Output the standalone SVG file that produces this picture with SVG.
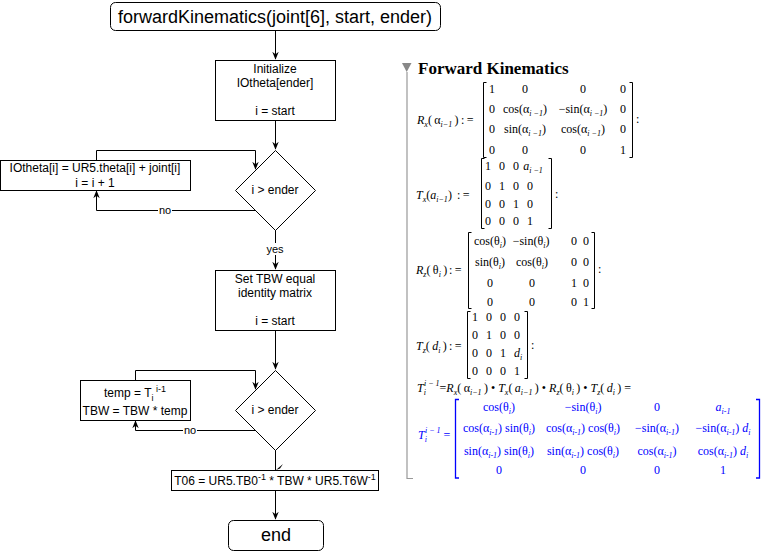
<svg xmlns="http://www.w3.org/2000/svg" width="763" height="551" viewBox="0 0 763 551">
<style>
.f{font-family:"Liberation Sans",Arial,sans-serif;font-size:12px;fill:#000;text-anchor:middle}
.big{font-size:18px}
.lbl{font-size:11px}
.box{fill:#fff;stroke:#000;stroke-width:1}
.edge{fill:none;stroke:#000;stroke-width:1}
.m{font-family:"Liberation Serif","Times New Roman",serif;font-size:12px;fill:#000}
.c{text-anchor:middle}
.bl{fill:#0000ff}
.i{font-style:italic}
.s{font-size:8px;font-style:italic}
.br{fill:none;stroke:#000;stroke-width:1}
.bb{fill:none;stroke:#0000ff;stroke-width:1.3}
.t{font-family:"Liberation Serif","Times New Roman",serif;font-weight:bold;font-size:17px;fill:#000}
</style>
<defs>
<marker id="a" viewBox="0 0 10 10" refX="9" refY="5" markerWidth="8" markerHeight="8" markerUnits="userSpaceOnUse" orient="auto"><path d="M0,1 L10,5 L0,9 L3,5 z" fill="#000"/></marker>
</defs>
<rect x="0" y="0" width="763" height="551" fill="#fff"/>

<g id="connectors">
<path class="edge" d="M275.5,30 V59" marker-end="url(#a)"/>
<path class="edge" d="M275.5,121 V149" marker-end="url(#a)"/>
<path class="edge" d="M96.5,160 V150.5 H255.5 V169" marker-end="url(#a)"/>
<path class="edge" d="M255,210.5 H96.5 V191" marker-end="url(#a)"/>
<path class="edge" d="M275.5,230 V269" marker-end="url(#a)"/>
<path class="edge" d="M275.5,331 V369" marker-end="url(#a)"/>
<path class="edge" d="M135.5,380 V370.5 H255.5 V389" marker-end="url(#a)"/>
<path class="edge" d="M255,430.5 H135.5 V421" marker-end="url(#a)"/>
<path class="edge" d="M275.5,450 V470"/>
<path d="M276,470 L283,464 L280,468.5 Z" fill="#000"/>
<path class="edge" d="M275.5,491 V519" marker-end="url(#a)"/>
<rect x="158" y="204" width="14" height="12" fill="#fff"/>
<text class="f lbl" x="165" y="214">no</text>
<rect x="265" y="243" width="20" height="12" fill="#fff"/>
<text class="f lbl" x="275" y="253">yes</text>
<rect x="183" y="424" width="14" height="12" fill="#fff"/>
<text class="f lbl" x="190" y="434">no</text>
</g>

<g id="start">
<rect class="box" x="110.5" y="2.5" width="330" height="28" rx="5"/>
<text class="f big" x="275" y="23">forwardKinematics(joint[6], start, ender)</text>
</g>
<g id="init">
<rect class="box" x="215.5" y="60.5" width="120" height="60"/>
<text class="f" x="275" y="73">Initialize</text>
<text class="f" x="275" y="87">IOtheta[ender]</text>
<text class="f" x="275" y="115">i = start</text>
</g>
<g id="cond1">
<polygon class="box" points="275.5,150.5 315.5,190.5 275.5,230.5 235.5,190.5"/>
<text class="f" x="275" y="194">i &gt; ender</text>
</g>
<g id="update1">
<rect class="box" x="0.5" y="160.5" width="190" height="30"/>
<text class="f" x="95" y="172">IOtheta[i] = UR5.theta[i] + joint[i]</text>
<text class="f" x="95" y="187">i = i + 1</text>
</g>
<g id="settbw">
<rect class="box" x="215.5" y="270.5" width="120" height="60"/>
<text class="f" x="275" y="283">Set TBW equal</text>
<text class="f" x="275" y="297">identity matrix</text>
<text class="f" x="275" y="325">i = start</text>
</g>
<g id="cond2">
<polygon class="box" points="275.5,370.5 315.5,410.5 275.5,450.5 235.5,410.5"/>
<text class="f" x="275" y="414">i &gt; ender</text>
</g>
<g id="update2">
<rect class="box" x="80.5" y="380.5" width="110" height="40"/>
<text class="f" x="135" y="397">temp = T<tspan font-size="9" dy="4">i</tspan><tspan font-size="9" dy="-9"> i-1</tspan></text>
<text class="f" x="135" y="415">TBW = TBW * temp</text>
</g>
<g id="t06">
<rect class="box" x="171.5" y="470.5" width="207" height="20"/>
<text class="f" x="275" y="485">T06 = UR5.TB0<tspan font-size="9" dy="-5">-1</tspan><tspan dy="5"> * TBW * UR5.T6W</tspan><tspan font-size="9" dy="-5">-1</tspan></text>
</g>
<g id="end">
<rect class="box" x="228.5" y="520.5" width="95" height="30" rx="5"/>
<text class="f big" x="276" y="541">end</text>
</g>

<g id="maple">
<path d="M407,72 V478.5 H413" fill="none" stroke="#999" stroke-width="1.2"/>
<polygon points="402,63 411.5,63 406.7,72" fill="#888"/>
<text class="t" x="418" y="74">Forward Kinematics</text>

<!-- Rx -->
<text class="m" x="417" y="124"><tspan class="i">R</tspan><tspan class="s" dy="3">x</tspan><tspan dy="-3">(&#x2009;α</tspan><tspan class="s" dy="3">i−1</tspan><tspan dy="-3">&#x2009;)</tspan><tspan x="461">:&#x2009;=</tspan></text>
<path class="br" d="M486.5,82.5 H483.5 V157.5 H486.5 M629.5,82.5 H632.5 V157.5 H629.5"/>
<g class="m c">
<text x="492" y="93">1</text><text x="525" y="93">0</text><text x="583" y="93">0</text><text x="623" y="93">0</text>
<text x="492" y="113">0</text><text x="525" y="113">cos(α<tspan class="s" dy="3">i −1</tspan><tspan dy="-3">)</tspan></text><text x="583" y="113">−sin(α<tspan class="s" dy="3">i −1</tspan><tspan dy="-3">)</tspan></text><text x="623" y="113">0</text>
<text x="492" y="133">0</text><text x="525" y="133">sin(α<tspan class="s" dy="3">i −1</tspan><tspan dy="-3">)</tspan></text><text x="583" y="133">cos(α<tspan class="s" dy="3">i −1</tspan><tspan dy="-3">)</tspan></text><text x="623" y="133">0</text>
<text x="492" y="154">0</text><text x="525" y="154">0</text><text x="583" y="154">0</text><text x="623" y="154">1</text>
</g>
<text class="m" x="636" y="123">:</text>

<!-- Tx -->
<text class="m" x="416" y="199"><tspan class="i">T</tspan><tspan class="s" dy="3">x</tspan><tspan dy="-3">(</tspan><tspan class="i">a</tspan><tspan class="s" dy="3">i−1</tspan><tspan dy="-3">)</tspan><tspan x="457">:&#x2009;=</tspan></text>
<path class="br" d="M484.5,158.5 H481.5 V228.5 H484.5 M548.5,158.5 H551.5 V228.5 H548.5"/>
<g class="m c">
<text x="488" y="170">1</text><text x="502" y="170">0</text><text x="516" y="170">0</text><text x="533" y="170"><tspan class="i">a</tspan><tspan class="s" dy="3">i −1</tspan></text>
<text x="488" y="190">0</text><text x="502" y="190">1</text><text x="516" y="190">0</text><text x="530" y="190">0</text>
<text x="488" y="208">0</text><text x="502" y="208">0</text><text x="516" y="208">1</text><text x="530" y="208">0</text>
<text x="488" y="225">0</text><text x="502" y="225">0</text><text x="516" y="225">0</text><text x="530" y="225">1</text>
</g>
<text class="m" x="555" y="198">:</text>

<!-- Rz -->
<text class="m" x="416" y="274"><tspan class="i">R</tspan><tspan class="s" dy="3">z</tspan><tspan dy="-3">(&#x2009;θ</tspan><tspan class="s" dy="3">i</tspan><tspan dy="-3">&#x2009;)</tspan><tspan x="449">:&#x2009;=</tspan></text>
<path class="br" d="M471.5,232.5 H468.5 V308.5 H471.5 M591.5,232.5 H594.5 V308.5 H591.5"/>
<g class="m c">
<text x="490" y="245">cos(θ<tspan class="s" dy="3">i</tspan><tspan dy="-3">)</tspan></text><text x="531" y="245">−sin(θ<tspan class="s" dy="3">i</tspan><tspan dy="-3">)</tspan></text><text x="574" y="245">0</text><text x="586" y="245">0</text>
<text x="490" y="266">sin(θ<tspan class="s" dy="3">i</tspan><tspan dy="-3">)</tspan></text><text x="532" y="266">cos(θ<tspan class="s" dy="3">i</tspan><tspan dy="-3">)</tspan></text><text x="574" y="266">0</text><text x="586" y="266">0</text>
<text x="490" y="287">0</text><text x="532" y="287">0</text><text x="574" y="287">1</text><text x="586" y="287">0</text>
<text x="490" y="306">0</text><text x="532" y="306">0</text><text x="574" y="306">0</text><text x="586" y="306">1</text>
</g>
<text class="m" x="598" y="273">:</text>

<!-- Tz -->
<text class="m" x="416" y="350"><tspan class="i">T</tspan><tspan class="s" dy="3">z</tspan><tspan dy="-3">(&#x2009;</tspan><tspan class="i">d</tspan><tspan class="s" dy="3">i</tspan><tspan dy="-3">&#x2009;)</tspan><tspan x="449">:&#x2009;=</tspan></text>
<path class="br" d="M470.5,311.5 H467.5 V378.5 H470.5 M524.5,311.5 H527.5 V378.5 H524.5"/>
<g class="m c">
<text x="475" y="321">1</text><text x="489" y="321">0</text><text x="503" y="321">0</text><text x="517" y="321">0</text>
<text x="475" y="339">0</text><text x="489" y="339">1</text><text x="503" y="339">0</text><text x="517" y="339">0</text>
<text x="475" y="357">0</text><text x="489" y="357">0</text><text x="503" y="357">1</text><text x="518" y="357"><tspan class="i">d</tspan><tspan class="s" dy="3">i</tspan></text>
<text x="475" y="375">0</text><text x="489" y="375">0</text><text x="503" y="375">0</text><text x="517" y="375">1</text>
</g>
<text class="m" x="531" y="349">:</text>

<!-- product -->
<text class="m" x="417" y="392"><tspan class="i">T</tspan><tspan class="s" dy="3">i</tspan><tspan class="s" dx="-2" dy="-9">i − 1</tspan><tspan dy="6">=</tspan><tspan class="i">R</tspan><tspan class="s" dy="3">x</tspan><tspan dy="-3">(&#x2009;α</tspan><tspan class="s" dy="3">i−1</tspan><tspan dy="-3">&#x2009;) • </tspan><tspan class="i">T</tspan><tspan class="s" dy="3">x</tspan><tspan dy="-3">(&#x2009;</tspan><tspan class="i">a</tspan><tspan class="s" dy="3">i−1</tspan><tspan dy="-3">&#x2009;) • </tspan><tspan class="i">R</tspan><tspan class="s" dy="3">z</tspan><tspan dy="-3">(&#x2009;θ</tspan><tspan class="s" dy="3">i</tspan><tspan dy="-3">&#x2009;) • </tspan><tspan class="i">T</tspan><tspan class="s" dy="3">z</tspan><tspan dy="-3">(&#x2009;</tspan><tspan class="i">d</tspan><tspan class="s" dy="3">i</tspan><tspan dy="-3">&#x2009;) =</tspan></text>

<!-- result -->
<text class="m bl" x="418" y="439"><tspan class="i">T</tspan><tspan class="s" dy="3">i</tspan><tspan class="s" dx="-2" dy="-9">i − 1</tspan><tspan dy="6"> =</tspan></text>
<path class="bb" d="M459,399.5 H455.5 V478 H459 M756,399.5 H759.5 V478 H756"/>
<g class="m c bl">
<text x="499" y="411">cos(θ<tspan class="s" dy="3">i</tspan><tspan dy="-3">)</tspan></text>
<text x="583" y="411">−sin(θ<tspan class="s" dy="3">i</tspan><tspan dy="-3">)</tspan></text>
<text x="657" y="411">0</text>
<text x="723" y="411"><tspan class="i">a</tspan><tspan class="s" dy="3">i-1</tspan></text>
<text x="499" y="432">cos(α<tspan class="s" dy="3">i-1</tspan><tspan dy="-3">) sin(θ</tspan><tspan class="s" dy="3">i</tspan><tspan dy="-3">)</tspan></text>
<text x="583" y="432">cos(α<tspan class="s" dy="3">i-1</tspan><tspan dy="-3">) cos(θ</tspan><tspan class="s" dy="3">i</tspan><tspan dy="-3">)</tspan></text>
<text x="657" y="432">−sin(α<tspan class="s" dy="3">i-1</tspan><tspan dy="-3">)</tspan></text>
<text x="723" y="432">−sin(α<tspan class="s" dy="3">i-1</tspan><tspan dy="-3">) </tspan><tspan class="i">d</tspan><tspan class="s" dy="3">i</tspan></text>
<text x="499" y="455">sin(α<tspan class="s" dy="3">i-1</tspan><tspan dy="-3">) sin(θ</tspan><tspan class="s" dy="3">i</tspan><tspan dy="-3">)</tspan></text>
<text x="583" y="455">sin(α<tspan class="s" dy="3">i-1</tspan><tspan dy="-3">) cos(θ</tspan><tspan class="s" dy="3">i</tspan><tspan dy="-3">)</tspan></text>
<text x="657" y="455">cos(α<tspan class="s" dy="3">i-1</tspan><tspan dy="-3">)</tspan></text>
<text x="723" y="455">cos(α<tspan class="s" dy="3">i-1</tspan><tspan dy="-3">) </tspan><tspan class="i">d</tspan><tspan class="s" dy="3">i</tspan></text>
<text x="499" y="474">0</text><text x="583" y="474">0</text><text x="657" y="474">0</text><text x="723" y="474">1</text>
</g>
</g>
</svg>
